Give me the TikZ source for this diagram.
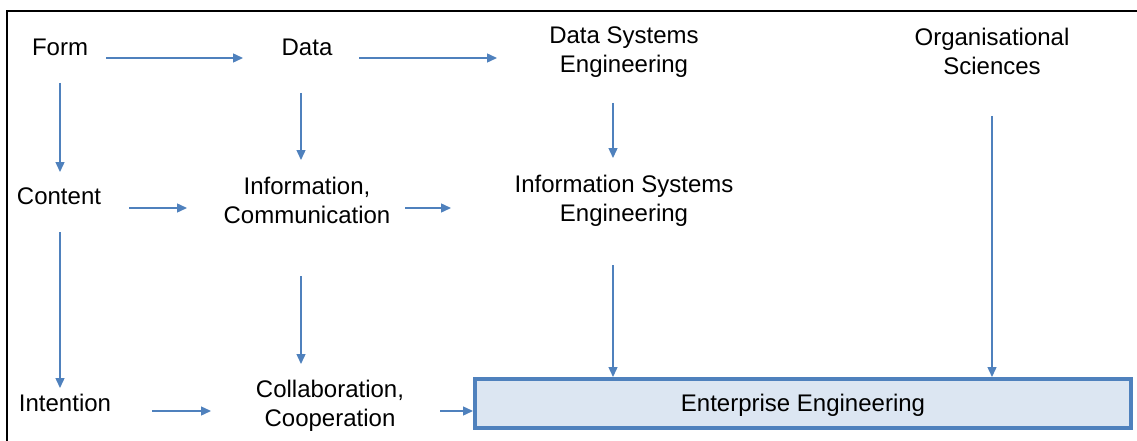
\documentclass[tikz,border=0pt]{standalone}
\usepackage{fontspec}
\setmainfont{Liberation Sans}
\usetikzlibrary{arrows.meta}
\definecolor{linkblue}{HTML}{4F81BD}
\definecolor{boxfill}{HTML}{DCE6F2}
\begin{document}
\begin{tikzpicture}[x=1pt,y=-1pt,
  lbl/.style={inner sep=0pt,align=center,font=\fontsize{24}{29}\selectfont},
  arr/.style={draw=linkblue,line width=1.4pt,-{Triangle[length=10pt,width=9pt]}},
  eebox/.style={draw=linkblue,fill=boxfill,line width=4pt,minimum width=656pt,
    minimum height=49pt,inner sep=0pt,text height=16.5pt,text depth=0pt,
    font=\fontsize{24}{29}\selectfont}]
\useasboundingbox (0,0) rectangle (1137,441);
% outer frame (top and left edges)
\draw[line width=1.4pt] (7,441) -- (7,11) -- (1137,11);

\node[lbl] (form) at (60,47) {Form};
\node[lbl] (data) at (307,47) {Data};
\node[lbl] (dse) at (624,52) {Data Systems\\Engineering};
\node[lbl] (org) at (992,51) {Organisational\\Sciences};
\node[lbl] (content) at (59,196) {Content};
\node[lbl] (info) at (307,200) {Information,\\Communication};
\node[lbl] (ise) at (624,201) {Information Systems\\Engineering};
\node[lbl] (intention) at (65,403) {Intention};
\node[lbl] (collab) at (330,406) {Collaboration,\\Cooperation};
\node[eebox] (ee) at (803,403.5) {Enterprise Engineering};

% horizontal links
\draw[arr] ([shift={(46,11)}]form.center) -- ([shift={(-64,11)}]data.center);
\draw[arr] ([shift={(52,11)}]data.center) -- ([shift={(-127,6)}]dse.center);
\draw[arr] ([shift={(70,12)}]content.center) -- ([shift={(-120,8)}]info.center);
\draw[arr] ([shift={(98,8)}]info.center) -- ([shift={(-173,7)}]ise.center);
\draw[arr] ([shift={(87,8)}]intention.center) -- ([shift={(-119,5)}]collab.center);
\draw[arr] ([shift={(110,5)}]collab.center) -- ([shift={(0,7.5)}]ee.west);

% vertical links
\draw[arr] ([shift={(0,36)}]form.center) -- ([shift={(1,-24)}]content.center);
\draw[arr] ([shift={(1,36)}]content.center) -- ([shift={(-5,-15)}]intention.center);
\draw[arr] ([shift={(-6,46)}]data.center) -- ([shift={(-6,-40)}]info.center);
\draw[arr] ([shift={(-6,76)}]info.center) -- ([shift={(-29,-42)}]collab.center);
\draw[arr] ([shift={(-11,51)}]dse.center) -- ([shift={(-11,-43)}]ise.center);
\draw[arr] ([shift={(-11,64)}]ise.center) -- ([shift={(-190,0)}]ee.north);
\draw[arr] ([shift={(0,65)}]org.center) -- ([shift={(189,0)}]ee.north);
\end{tikzpicture}
\end{document}
